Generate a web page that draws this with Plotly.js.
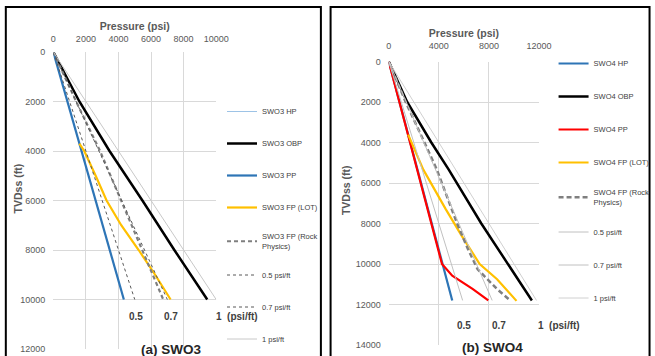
<!DOCTYPE html>
<html>
<head>
<meta charset="utf-8">
<script src="https://cdn.plot.ly/plotly-3.0.1.min.js"></script>
<style>
html,body{margin:0;padding:0;background:#fff;}
#chart{width:655px;height:356px;}
</style>
</head>
<body>
<div id="chart"></div>
<script>
// ---------- Panel (a) SWO3 : depth (ft) and pressure (psi) ----------
const hpA_depth   = [0, 10000];
const hpA_psi     = [0, 4330];
const obpA_depth  = [0, 2000, 4000, 6000, 8000, 10000];
const obpA_psi    = [0, 1600, 3450, 5470, 7430, 9450];
const ppA_depth   = [0, 10000];
const ppA_psi     = [0, 4330];
const lotA_depth  = [3700, 4000, 5000, 6000, 7000, 8000, 9000, 10000];
const lotA_psi    = [1600, 1900, 2600, 3270, 4170, 5240, 6250, 7200];
const rockA_depth = [0, 2000, 4000, 6000, 8000, 10000];
const rockA_psi   = [0, 1400, 2870, 4170, 5460, 6750];
const g05A_depth  = [0, 10000];
const g05A_psi    = [0, 5000];
const g07A_depth  = [0, 10000];
const g07A_psi    = [0, 7000];
const g10A_depth  = [0, 10000];
const g10A_psi    = [0, 10000];

// ---------- Panel (b) SWO4 ----------
const hpB_depth   = [0, 10000, 11800];
const hpB_psi     = [0, 4250, 5070];
const obpB_depth  = [0, 2000, 4000, 5340, 8000, 11800];
const obpB_psi    = [0, 1470, 3400, 4790, 7390, 11430];
const ppB_depth   = [0, 10000, 10580, 11240, 11800];
const ppB_psi     = [0, 4250, 5070, 6720, 7950];
const lotB_depth  = [3610, 5340, 7300, 8620, 10000, 10750, 11820];
const lotB_psi    = [1550, 2760, 4560, 5840, 7260, 8650, 10200];
const rockB_depth = [0, 2000, 4000, 5340, 8000, 9270, 10260, 11240, 11800];
const rockB_psi   = [0, 1350, 2850, 3840, 5460, 6330, 7100, 8650, 9700];
const g05B_depth  = [0, 11800];
const g05B_psi    = [0, 5900];
const g07B_depth  = [0, 11800];
const g07B_psi    = [0, 8260];
const g10B_depth  = [0, 11800];
const g10B_psi    = [0, 11800];

// ---------- Tick labels ----------
const xTicksA = [0, 2000, 4000, 6000, 8000, 10000];
const yTicksA = [0, 2000, 4000, 6000, 8000, 10000, 12000];
const xTicksB = [0, 4000, 8000, 12000];
const yTicksB = [0, 2000, 4000, 6000, 8000, 10000, 12000, 14000];

const FONT = "Liberation Sans Narrow, Arial Narrow, Liberation Sans, Arial, sans-serif";
const W = 655, H = 356;
const px = v => v / W;
const py = v => 1 - v / H;

function tr(name, x, y, color, width, dash, xa, ya, leg, grp) {
  return {
    type: 'scatter', mode: 'lines', name: name, x: x, y: y,
    xaxis: xa, yaxis: ya, legend: leg, legendgroup: grp,
    line: {color: color, width: width, dash: dash || 'solid'},
    hoverinfo: 'skip'
  };
}

const data = [
  tr('SWO3 HP', hpA_psi, hpA_depth, '#9dc3e6', 1, 'solid', 'x', 'y', 'legend', 'a1'),
  tr('SWO3 OBP', obpA_psi, obpA_depth, '#000000', 2.5, 'solid', 'x', 'y', 'legend', 'a2'),
  tr('SWO3 PP', ppA_psi, ppA_depth, '#2e75b6', 2.2, 'solid', 'x', 'y', 'legend', 'a3'),
  tr('SWO3 FP (LOT)', lotA_psi, lotA_depth, '#ffc000', 2.2, 'solid', 'x', 'y', 'legend', 'a4'),
  tr('SWO3 FP (Rock<br>Physics)', rockA_psi, rockA_depth, '#7f7f7f', 2.2, '4px,3px', 'x', 'y', 'legend', 'a5'),
  tr('0.5 psi/ft', g05A_psi, g05A_depth, '#595959', 1, 'dot', 'x', 'y', 'legend', 'a6'),
  tr('0.7 psi/ft', g07A_psi, g07A_depth, '#595959', 1, 'dot', 'x', 'y', 'legend', 'a7'),
  tr('1 psi/ft', g10A_psi, g10A_depth, '#c8c8c8', 1, 'solid', 'x', 'y', 'legend', 'a8'),

  tr('SWO4 HP', hpB_psi, hpB_depth, '#2e75b6', 2.2, 'solid', 'x2', 'y2', 'legend2', 'b1'),
  tr('SWO4 OBP', obpB_psi, obpB_depth, '#000000', 2.5, 'solid', 'x2', 'y2', 'legend2', 'b2'),
  tr('SWO4 PP', ppB_psi, ppB_depth, '#ff0000', 2.2, 'solid', 'x2', 'y2', 'legend2', 'b3'),
  tr('SWO4 FP (LOT)', lotB_psi, lotB_depth, '#ffc000', 2.2, 'solid', 'x2', 'y2', 'legend2', 'b4'),
  tr('SWO4 FP (Rock<br>Physics)', rockB_psi, rockB_depth, '#7f7f7f', 2.5, '5px,3px', 'x2', 'y2', 'legend2', 'b5'),
  tr('0.5 psi/ft', g05B_psi, g05B_depth, '#c0c0c0', 1, 'solid', 'x2', 'y2', 'legend2', 'b6'),
  tr('0.7 psi/ft', g07B_psi, g07B_depth, '#c0c0c0', 1, 'solid', 'x2', 'y2', 'legend2', 'b7'),
  tr('1 psi/ft', g10B_psi, g10B_depth, '#d0d0d0', 1, 'solid', 'x2', 'y2', 'legend2', 'b8')
];

const tickFont = {family: FONT, size: 9, color: '#595959'};
const titleFont = {family: FONT, size: 10.5, color: '#595959', weight: 'bold'};

function xAx(dom, range, ticks, anchor, lstand) {
  return {
    domain: dom, range: range, side: 'top', anchor: anchor,
    tickvals: ticks, ticktext: ticks.map(String), tickfont: tickFont,
    showgrid: true, gridcolor: '#d9d9d9', gridwidth: 1, zeroline: false,
    showline: false, ticks: '', ticklabelstandoff: lstand,
    title: {text: 'Pressure (psi)', font: titleFont, standoff: 1}
  };
}
function yAx(dom, range, ticks, anchor) {
  return {
    domain: dom, range: range, anchor: anchor,
    tickvals: ticks, ticktext: ticks.map(String), tickfont: tickFont,
    showgrid: true, gridcolor: '#d9d9d9', gridwidth: 1, zeroline: false,
    showline: false, ticks: '', ticklabelstandoff: 7
  };
}

const legFont = {family: FONT, size: 7.5, color: '#404040'};
const annFont = {family: FONT, size: 10, color: '#404040', weight: 'bold'};

function ann(text, x, y, size, xanchor) {
  return {
    text: text, xref: 'paper', yref: 'paper', x: px(x), y: py(y),
    xanchor: xanchor || 'center', yanchor: 'middle', showarrow: false,
    font: size ? {family: FONT, size: size, color: '#262626', weight: 'bold'} : annFont
  };
}
function yTitle(x, y) {
  return {
    text: 'TVDss (ft)', xref: 'paper', yref: 'paper', x: px(x), y: py(y),
    xanchor: 'center', yanchor: 'middle', showarrow: false, textangle: -90,
    font: titleFont
  };
}

const layout = {
  width: W, height: H,
  margin: {l: 0, r: 0, t: 0, b: 0},
  paper_bgcolor: '#ffffff', plot_bgcolor: '#ffffff',
  showlegend: true,
  xaxis: xAx([px(55), px(223)], [0, 10000], xTicksA, 'y', 7),
  yaxis: yAx([py(349), py(52)], [12000, 0], yTicksA, 'x'),
  xaxis2: xAx([px(401), px(556)], [0, 12000], xTicksB, 'y2', 10),
  yaxis2: yAx([py(345), py(61.5)], [14000, 0], yTicksB, 'x2'),
  legend: {
    x: px(229), y: py(97), xanchor: 'left', yanchor: 'top',
    font: legFont, bgcolor: 'rgba(0,0,0,0)', borderwidth: 0,
    traceorder: 'grouped', tracegroupgap: 13, itemwidth: 30
  },
  legend2: {
    x: px(571), y: py(49), xanchor: 'left', yanchor: 'top',
    font: legFont, bgcolor: 'rgba(0,0,0,0)', borderwidth: 0,
    traceorder: 'grouped', tracegroupgap: 14, itemwidth: 30
  },
  annotations: [
    yTitle(19, 188),
    yTitle(357, 190),
    ann('0.5', 140, 316),
    ann('0.7', 176, 316),
    ann('1  (psi/ft)', 221, 316, null, 'left'),
    ann('(a) SWO3', 176, 349, 13.5),
    ann('0.5', 479, 325),
    ann('0.7', 515, 325),
    ann('1  (psi/ft)', 553, 325, null, 'left'),
    ann('(b) SWO4', 508, 347, 13.5)
  ],
  shapes: [
    {type: 'rect', xref: 'paper', yref: 'paper', x0: px(6), x1: px(331), y0: py(7), y1: py(370),
     line: {color: '#000000', width: 2}, fillcolor: 'rgba(0,0,0,0)'},
    {type: 'rect', xref: 'paper', yref: 'paper', x0: px(341), x1: px(670), y0: py(7), y1: py(370),
     line: {color: '#000000', width: 2}, fillcolor: 'rgba(0,0,0,0)'}
  ]
};

Plotly.newPlot('chart', data, layout, {displayModeBar: false, staticPlot: true});
</script>
</body>
</html>
